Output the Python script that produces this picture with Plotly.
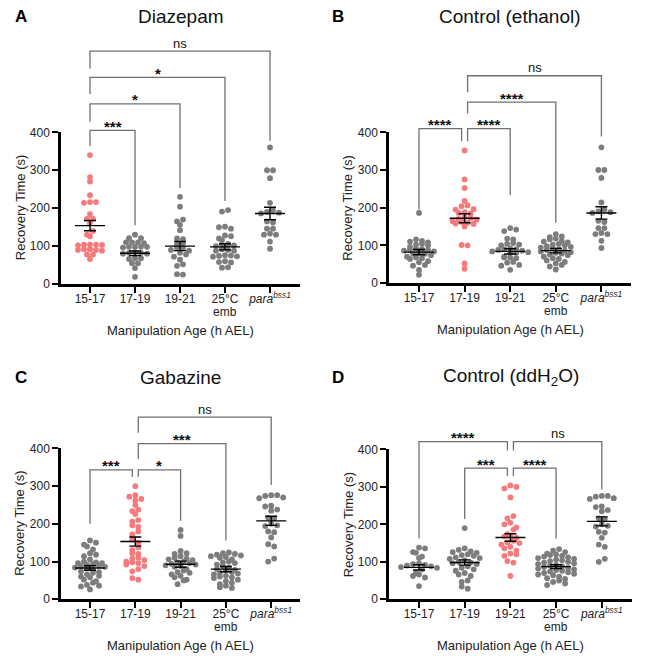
import numpy as np
import plotly.graph_objects as go

W, H = 669, 663
FONT = "Liberation Sans, Arial, sans-serif"

# ---------------- data ----------------
categories = ["15-17", "17-19", "19-21", "25°C", "<i>para<sup>bss1</sup></i>"]
category_second_line = ["", "", "", "emb", ""]
panel_letters = ["A", "B", "C", "D"]
panel_titles = ["Diazepam", "Control (ethanol)", "Gabazine", "Control (ddH<sub>2</sub>O)"]
highlight_group = [0, 1, 1, 2]

A_15_17 = [340, 282, 270, 234, 216, 216, 214, 184, 172, 172, 160, 140, 130, 126, 104, 104, 103, 104, 102, 92, 90, 92, 90, 88, 78, 78, 66]
A_17_19 = [130, 121, 121, 110, 110, 110, 108, 98, 98, 98, 96, 98, 82, 80, 82, 80, 84, 68, 68, 66, 55, 55, 42, 19]
A_19_21 = [230, 204, 170, 165, 156, 142, 120, 118, 108, 104, 96, 96, 90, 88, 82, 78, 72, 64, 52, 48, 26, 25]
A_25C = [195, 191, 151, 150, 146, 128, 126, 120, 116, 106, 104, 103, 102, 100, 92, 90, 88, 88, 76, 75, 74, 73, 72, 60, 58, 57, 44, 43]
para_AB = [360, 300, 300, 279, 214, 195, 190, 188, 186, 165, 162, 146, 146, 130, 130, 133, 112, 93]

B_15_17 = [186, 116, 112, 110, 108, 104, 102, 100, 96, 92, 90, 88, 88, 86, 84, 80, 78, 78, 74, 70, 68, 66, 64, 58, 55, 48, 46, 35, 22]
B_17_19 = [352, 275, 252, 218, 206, 204, 195, 196, 188, 186, 184, 175, 172, 170, 168, 164, 162, 160, 158, 157, 150, 101, 100, 52, 38]
B_19_21 = [146, 142, 138, 118, 116, 106, 104, 102, 100, 92, 90, 90, 88, 86, 84, 82, 80, 80, 70, 68, 68, 66, 56, 54, 48, 46, 35]
B_25C = [130, 124, 122, 118, 116, 112, 110, 108, 104, 102, 100, 98, 96, 94, 92, 90, 88, 86, 84, 82, 80, 78, 76, 74, 70, 66, 64, 60, 56, 52, 48, 44, 36]

C_15_17 = [156, 150, 145, 140, 132, 122, 118, 114, 106, 100, 98, 96, 96, 94, 92, 90, 88, 86, 84, 82, 78, 74, 72, 70, 66, 62, 60, 58, 52, 48, 44, 38, 36, 34, 26]
C_17_19 = [300, 276, 272, 266, 262, 250, 238, 234, 226, 210, 206, 196, 192, 180, 172, 158, 150, 138, 130, 122, 120, 110, 108, 104, 100, 98, 96, 92, 88, 80, 74, 56, 52]
C_19_21 = [184, 168, 128, 122, 120, 114, 110, 108, 106, 104, 100, 98, 96, 94, 92, 90, 88, 86, 80, 76, 72, 70, 66, 62, 58, 52, 50, 40]
C_25C = [124, 122, 120, 118, 116, 114, 112, 110, 106, 100, 98, 96, 92, 88, 84, 80, 78, 76, 72, 70, 68, 66, 62, 60, 58, 56, 52, 48, 44, 40, 36, 32, 30]
para_CD = [276, 274, 276, 268, 270, 248, 246, 238, 235, 216, 214, 200, 196, 194, 180, 178, 164, 146, 140, 108, 100]

D_15_17 = [138, 136, 126, 124, 114, 110, 96, 94, 92, 90, 88, 86, 84, 80, 70, 66, 62, 58, 35]
D_17_19 = [190, 136, 132, 128, 126, 124, 120, 118, 116, 112, 110, 108, 104, 100, 98, 96, 94, 88, 84, 80, 76, 70, 66, 62, 50, 46, 34, 28]
D_19_21 = [304, 300, 296, 272, 222, 216, 204, 200, 192, 186, 174, 170, 168, 164, 156, 152, 150, 146, 140, 136, 130, 122, 120, 116, 102, 98, 62]
D_25C = [134, 130, 126, 122, 120, 118, 116, 114, 112, 110, 108, 106, 104, 102, 100, 98, 96, 94, 92, 90,
         88, 86, 84, 82, 80, 78, 76, 74, 72, 70, 68, 66, 64, 60, 56, 54, 50, 46, 42, 38]

means_A = [154, 81, 100, 98, 186]
sems_A = [13.5, 6, 12, 8, 16.5]
means_B = [82, 172, 84, 86, 186]
sems_B = [7, 12, 7, 6, 16.5]
means_C = [83, 153, 93, 80, 208]
sems_C = [6, 12, 8, 7, 12]
means_D = [85, 98, 165, 87, 208]
sems_D = [7, 7, 10, 5, 12]

# brackets: (group i, group j, level, left-leg end, right-leg end, label)
brackets_A = [(0, 1, 405, 364, 155, "***"), (0, 2, 475, 428, 253, "*"),
              (0, 3, 545, 501, 219, "*"), (0, 4, 614, 568, 377, "ns")]
brackets_B = [(0, 1, 410, 195, 376, "****"), (1, 2, 410, 376, 233, "****"),
              (1, 3, 480, 450, 160, "****"), (1, 4, 550, 506, 389, "ns")]
brackets_C = [(0, 1, 343, 200, 325, "***"), (1, 2, 343, 325, 208, "*"),
              (1, 3, 413, 372, 156, "***"), (1, 4, 483, 442, 303, "ns")]
brackets_D = [(1, 2, 350, 214, 329, "***"), (2, 3, 350, 329, 162, "****"),
              (0, 2, 421, 162, 397, "****"), (2, 4, 421, 397, 293, "ns")]

panel_groups = [
    [A_15_17, A_17_19, A_19_21, A_25C, para_AB],
    [B_15_17, B_17_19, B_19_21, B_25C, para_AB],
    [C_15_17, C_17_19, C_19_21, C_25C, para_CD],
    [D_15_17, D_17_19, D_19_21, D_25C, para_CD],
]
panel_means = [means_A, means_B, means_C, means_D]
panel_sems = [sems_A, sems_B, sems_C, sems_D]
panel_brackets = [brackets_A, brackets_B, brackets_C, brackets_D]

# ---------------- layout geometry (pixels) ----------------
geom = [
    dict(xl=61, xr=300, cat0=90, step=45.0, y0=283, y400=128, title_y=10, letter_x=21),
    dict(xl=389, xr=631, cat0=419, step=45.6, y0=282, y400=128, title_y=10, letter_x=338),
    dict(xl=61, xr=300, cat0=90, step=45.3, y0=605, y400=451, title_y=378, letter_x=21),
    dict(xl=389, xr=632, cat0=419, step=45.7, y0=605, y400=452, title_y=378, letter_x=338),
]
TOP = 650
RED = "#F67A7C"
GRAY = "#7d7d7d"
DOT = 5.8
ROW_H = 4.6     # px: points closer than this vertically share a row
COL_W = 6.0     # px: horizontal spacing within a row


def swarm(vals, ypx):
    vals = np.asarray(vals, float)
    order = np.argsort(-vals, kind="stable")
    offs = np.zeros(len(vals))
    rows, cur, start = [], [], None
    for idx in order:
        if start is None or (start - vals[idx]) * ypx < ROW_H:
            if start is None:
                start = vals[idx]
            cur.append(idx)
        else:
            rows.append(cur)
            cur, start = [idx], vals[idx]
    if cur:
        rows.append(cur)
    for r, row in enumerate(rows):
        m = len(row)
        pos = [(q - (m - 1) / 2) * COL_W for q in range(m)]
        pos.sort(key=lambda p: (abs(p), p * (1 if r % 2 else -1)))
        for idx, p in zip(row, pos):
            offs[idx] = p
    return offs


def ax(n):
    return "" if n == 1 else str(n)


fig = go.Figure()
layout = dict(width=W, height=H, margin=dict(l=0, r=0, t=0, b=0),
              paper_bgcolor="white", plot_bgcolor="rgba(0,0,0,0)",
              showlegend=False, font=dict(family=FONT, color="#222"))
annotations = []

for k in range(4):
    g = geom[k]
    n = k + 1
    ypx = (g["y0"] - g["y400"]) / 400.0
    xr0 = (g["xl"] - g["cat0"]) / g["step"]
    xr1 = (g["xr"] - g["cat0"]) / g["step"]
    top_px = g["y0"] - TOP * ypx
    xa, ya, yb = f"x{ax(n)}", f"y{ax(n)}", f"y{n + 4}"

    layout[f"xaxis{ax(n)}"] = dict(
        domain=[g["xl"] / W, g["xr"] / W], range=[xr0, xr1], anchor=ya,
        tickvals=list(range(5)), ticktext=categories, ticks="outside", ticklen=6,
        tickwidth=2, tickcolor="black", showline=True, linewidth=2.5, linecolor="black",
        ticklabelstandoff=-4,
        showgrid=False, zeroline=False, tickfont=dict(size=12, color="#222", family=FONT))
    layout[f"yaxis{ax(n)}"] = dict(
        domain=[1 - g["y0"] / H, 1 - g["y400"] / H], range=[0, 400], anchor=xa,
        tickvals=[0, 100, 200, 300, 400], ticks="outside", ticklen=6, tickwidth=2,
        tickcolor="black", showline=True, linewidth=2.5, linecolor="black",
        showgrid=False, zeroline=False, tickfont=dict(size=12, color="#222", family=FONT))
    layout[f"yaxis{n + 4}"] = dict(
        domain=[1 - g["y0"] / H, 1 - top_px / H], range=[0, TOP], anchor=xa,
        visible=False, showgrid=False, zeroline=False)

    groups = panel_groups[k]
    for i, vals in enumerate(groups):
        offs = swarm(vals, ypx) / g["step"]
        col = RED if i == highlight_group[k] else GRAY
        fig.add_trace(go.Scatter(
            x=i + offs, y=vals, mode="markers", xaxis=xa, yaxis=ya, cliponaxis=False,
            marker=dict(size=DOT, color=col, line=dict(width=0)), hoverinfo="skip"))

    # mean +/- SEM
    ex, ey = [], []
    mw, cw = 15 / g["step"], 6 / g["step"]
    for i, (m, s) in enumerate(zip(panel_means[k], panel_sems[k])):
        ex += [i - mw, i + mw, None, i, i, None, i - cw, i + cw, None, i - cw, i + cw, None]
        ey += [m, m, None, m - s, m + s, None, m + s, m + s, None, m - s, m - s, None]
    fig.add_trace(go.Scatter(x=ex, y=ey, mode="lines", xaxis=xa, yaxis=ya, cliponaxis=False,
                             line=dict(color="black", width=1.4), hoverinfo="skip"))

    # significance brackets
    bx, by = [], []
    dxp = 3 / g["step"]
    brs = panel_brackets[k]
    for (i, j, lev, lb, rb, lab) in brs:
        li = i + (dxp if any(b[1] == i for b in brs) else 0)
        rj = j - (dxp if any(b[0] == j for b in brs) else 0)
        bx += [li, li, rj, rj, None]
        by += [lb, lev, lev, rb, None]
        is_ns = lab == "ns"
        annotations.append(dict(
            x=(li + rj) / 2, y=lev, xref=xa, yref=yb,
            text=lab if is_ns else f"<b>{lab}</b>", showarrow=False,
            xanchor="center", yanchor="middle", yshift=8 if is_ns else 4,
            font=dict(size=13 if is_ns else 15, color="#111", family=FONT)))
    fig.add_trace(go.Scatter(x=bx, y=by, mode="lines", xaxis=xa, yaxis=yb,
                             line=dict(color="#707070", width=1.3), hoverinfo="skip"))

    # second line of the category labels (e.g. "emb")
    for i, txt in enumerate(category_second_line):
        if txt:
            annotations.append(dict(
                x=i, y=1 - (g["y0"] + 28.5) / H, xref=xa, yref="paper", text=txt,
                showarrow=False, xanchor="center", yanchor="middle",
                font=dict(size=12, color="#222", family=FONT)))

    # titles and labels
    annotations.append(dict(
        x=0.5, y=1 - g["title_y"] / H, xref=f"{xa} domain", yref="paper",
        text=panel_titles[k], showarrow=False, xanchor="center", yanchor="middle",
        font=dict(size=19, color="#111", family=FONT)))
    annotations.append(dict(
        x=g["letter_x"] / W, y=1 - g["title_y"] / H, xref="paper", yref="paper",
        text=f"<b>{panel_letters[k]}</b>", showarrow=False, xanchor="center", yanchor="middle",
        font=dict(size=17, color="black", family=FONT)))
    annotations.append(dict(
        x=0.5, y=1 - (g["y0"] + 47) / H, xref=f"{xa} domain", yref="paper",
        text="Manipulation Age (h AEL)", showarrow=False, xanchor="center", yanchor="middle",
        font=dict(size=13, color="#222", family=FONT)))
    annotations.append(dict(
        x=(g["xl"] - 41) / W, y=200, xref="paper", yref=ya, textangle=-90,
        text="Recovery Time (s)", showarrow=False, xanchor="center", yanchor="middle",
        font=dict(size=13, color="#222", family=FONT)))

layout["annotations"] = annotations
fig.update_layout(**layout)
fig.write_html("out.html")
